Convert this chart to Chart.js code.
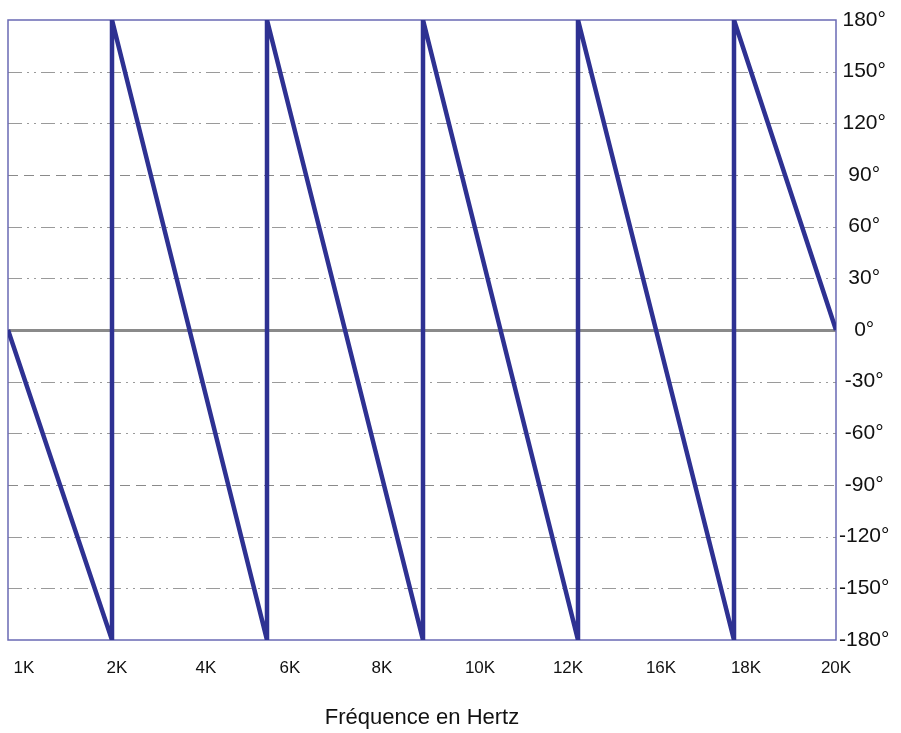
<!DOCTYPE html>
<html>
<head>
<meta charset="utf-8">
<script src="https://cdn.jsdelivr.net/npm/chart.js@4.4.1/dist/chart.umd.min.js"></script>
<style>
  html, body { margin: 0; padding: 0; background: #fff; }
  #wrap { width: 901px; height: 733px; position: relative; }
</style>
</head>
<body>
<div id="wrap"><canvas id="chart"></canvas></div>
<script>
// position along the frequency axis (0 = left edge, 828 = right edge)
const xPos = [0, 104, 104, 259, 259, 415, 415, 570, 570, 726, 726, 828];
// phase in degrees
const phase = [0, -180, 180, -180, 180, -180, 180, -180, 180, -180, 180, 0];

const freqTickPos = [16, 109, 198, 282, 374, 472, 560, 653, 738, 828];
const freqTickLabels = ['1K', '2K', '4K', '6K', '8K', '10K', '12K', '16K', '18K', '20K'];
const phaseTicks = [180, 150, 120, 90, 60, 30, 0, -30, -60, -90, -120, -150, -180];

const FONT = 'Arial, "Liberation Sans", sans-serif';

// horizontal grid with mixed dash styles + frame
const gridPlugin = {
    id: 'phaseGrid',
    beforeDatasetsDraw(chart) {
        const { ctx, chartArea: a, scales: { y } } = chart;
        ctx.save();
        phaseTicks.forEach(function (v) {
            if (v === 180 || v === -180) return;
            const py = Math.round(y.getPixelForValue(v)) + 0.5;
            ctx.beginPath();
            if (v === 0) {
                ctx.setLineDash([]);
                ctx.lineWidth = 3;
                ctx.strokeStyle = '#8a8a8a';
            } else if (v === 90 || v === -90) {
                ctx.setLineDash([10, 6]);
                ctx.lineWidth = 1;
                ctx.strokeStyle = '#8a8a8a';
            } else {
                ctx.setLineDash([14, 5, 2, 5, 2, 5]);
                ctx.lineWidth = 1;
                ctx.strokeStyle = '#9a9a9a';
            }
            ctx.moveTo(a.left, py);
            ctx.lineTo(a.right, py);
            ctx.stroke();
        });
        ctx.setLineDash([]);
        ctx.lineWidth = 1.5;
        ctx.strokeStyle = '#6a6ab4';
        ctx.strokeRect(a.left, a.top, a.right - a.left, a.bottom - a.top);
        ctx.restore();
    }
};

document.addEventListener('DOMContentLoaded', function () {
    const ctx = document.getElementById('chart').getContext('2d');
    new Chart(ctx, {
        type: 'line',
        data: {
            datasets: [{
                data: xPos.map(function (x, i) { return { x: x, y: phase[i] }; }),
                borderColor: '#2e3192',
                borderWidth: 4.5,
                pointRadius: 0,
                tension: 0,
                fill: false
            }]
        },
        options: {
            responsive: true,
            maintainAspectRatio: false,
            animation: false,
            layout: { padding: { top: 20, left: 8, right: 0, bottom: 0 } },
            plugins: { legend: { display: false }, tooltip: { enabled: false } },
            scales: {
                x: {
                    type: 'linear',
                    min: 0,
                    max: 828,
                    grid: { display: false },
                    border: { display: false },
                    afterBuildTicks: function (scale) {
                        scale.ticks = freqTickPos.map(function (v) { return { value: v }; });
                    },
                    afterFit: function (scale) { scale.height = 93; },
                    ticks: {
                        autoSkip: false,
                        maxRotation: 0,
                        padding: 10,
                        color: '#111',
                        font: { family: FONT, size: 17 },
                        callback: function (v) {
                            const i = freqTickPos.indexOf(v);
                            return i >= 0 ? freqTickLabels[i] : '';
                        }
                    },
                    title: {
                        display: true,
                        text: 'Fréquence en Hertz',
                        color: '#111',
                        font: { family: FONT, size: 22 },
                        padding: { top: 0, bottom: 2 }
                    }
                },
                y: {
                    position: 'right',
                    min: -180,
                    max: 180,
                    grid: { display: false },
                    border: { display: false },
                    afterBuildTicks: function (scale) {
                        scale.ticks = phaseTicks.map(function (v) { return { value: v }; });
                    },
                    afterFit: function (scale) { scale.width = 65; },
                    ticks: {
                        padding: -5,
                        crossAlign: 'center',
                        color: '#111',
                        font: { family: FONT, size: 21 },
                        callback: function (v) { return v + '°'; }
                    }
                }
            }
        },
        plugins: [gridPlugin]
    });
});
</script>
</body>
</html>
